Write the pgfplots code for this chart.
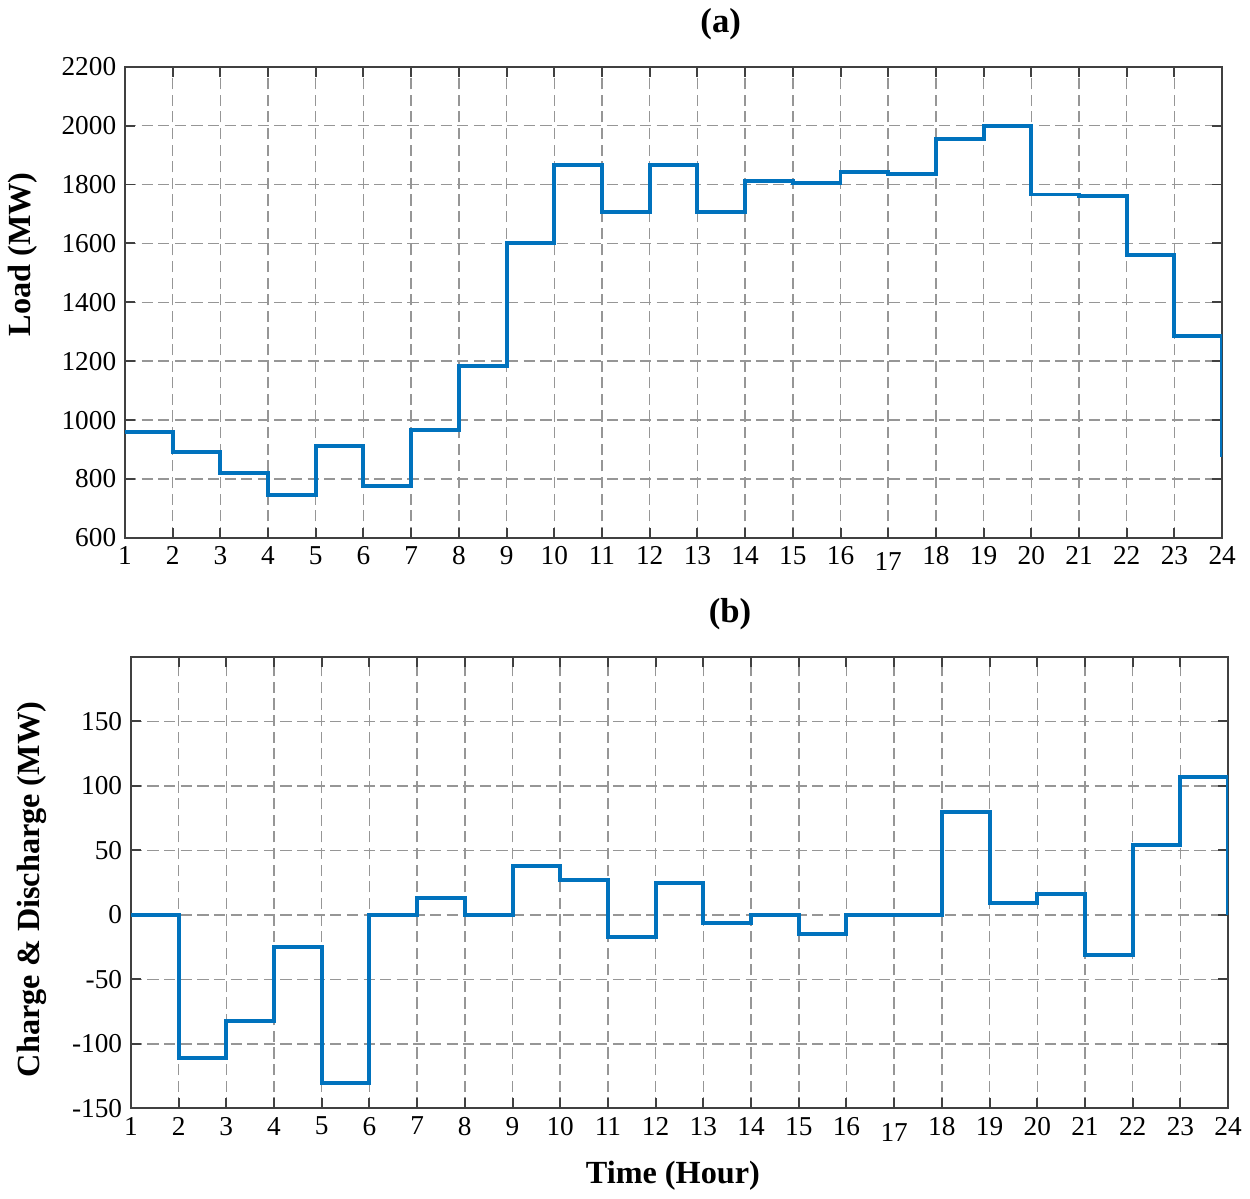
\documentclass[border=0pt]{standalone}
\usepackage{fontspec}
\setmainfont{Liberation Serif}
\usepackage{pgfplots}
\pgfplotsset{compat=1.18}

\definecolor{mblue}{RGB}{0,114,189}
\definecolor{gridgray}{RGB}{150,150,150}

\pgfplotsset{
  stairs/.style={
    scale only axis,
    width=442.4pt,
    xmin=1, xmax=24,
    xtick={1,...,24},
    xticklabels={1,2,3,4,5,6,7,8,9,10,11,12,13,14,15,16,\raisebox{-2.5pt}[\height]{17},18,19,20,21,22,23,24},
    grid=major,
    major grid style={gridgray, line width=0.6pt, dash pattern=on 4.5pt off 2.2pt},
    axis line style={black!75, line width=0.9pt},
    tick style={black!75, line width=0.8pt},
    tick align=inside,
    major tick length=4pt,
    /pgf/number format/assume math mode=true,
    /pgf/number format/1000 sep={},
    tick label style={font=\fontsize{11}{13}\selectfont},
    label style={font=\fontsize{13}{15}\selectfont\bfseries},
    title style={font=\fontsize{14}{16}\selectfont\bfseries, anchor=center},
  }
}

\begin{document}
\begin{tikzpicture}
\begin{axis}[stairs,
  at={(0,0)}, anchor=south west,
  height=190pt,
  ymin=600, ymax=2200,
  ytick={600,800,...,2200},
  title={(a)},
  title style={at={(axis description cs:0.543,1.059)}},
  ylabel={Load (MW)},
  ylabel style={at={(axis description cs:-0.093,0.602)}, anchor=center},
]
\addplot[const plot, color=mblue, line width=1.6pt] coordinates {
  (1,960) (2,893) (3,819) (4,745) (5,913) (6,775) (7,967) (8,1183)
  (9,1600) (10,1866) (11,1708) (12,1866) (13,1708) (14,1812) (15,1806) (16,1843)
  (17,1835) (18,1953) (19,2000) (20,1766) (21,1760) (22,1559) (23,1284) (24,875)
};
\end{axis}

\begin{axis}[stairs,
  at={(2.4pt,-230pt)}, anchor=south west,
  height=182pt,
  ymin=-150, ymax=200,
  ytick={-150,-100,...,150},
  title={(b)},
  title style={at={(axis description cs:0.546,1.0615)}},
  ylabel={Charge \& Discharge (MW)},
  ylabel style={at={(axis description cs:-0.0903,0.485)}, anchor=center},
  xlabel={Time (Hour)},
  xlabel style={at={(axis description cs:0.494,-0.15)}, anchor=center},
]
\addplot[const plot, color=mblue, line width=1.6pt] coordinates {
  (1,0) (2,-111) (3,-82) (4,-25) (5,-130) (6,0) (7,13) (8,0)
  (9,38) (10,27) (11,-17) (12,25) (13,-6) (14,0) (15,-15) (16,0)
  (17,0) (18,80) (19,9.5) (20,16) (21,-31) (22,54) (23,107) (24,0)
};
\end{axis}
\end{tikzpicture}
\end{document}
